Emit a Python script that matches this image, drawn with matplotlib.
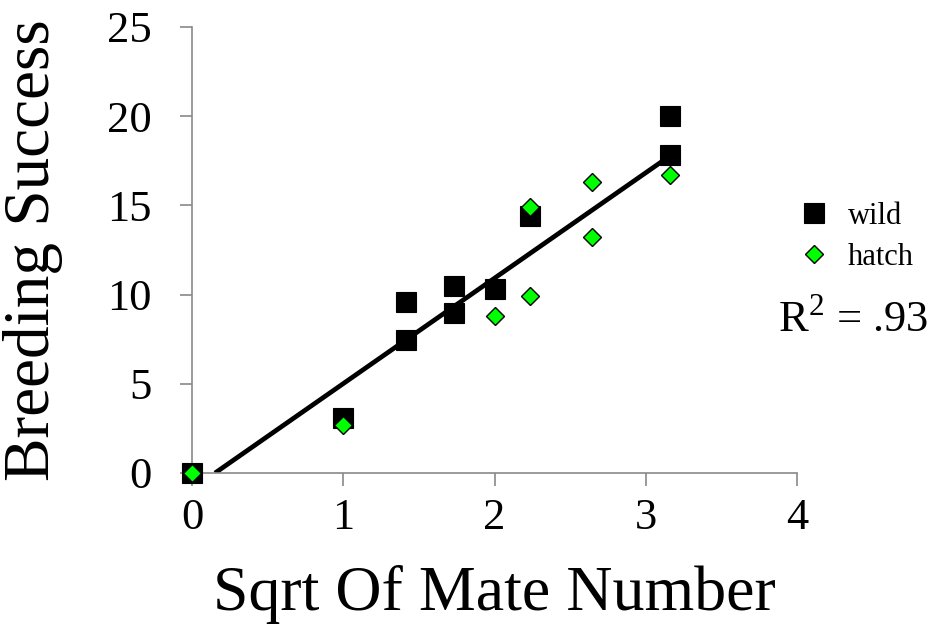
import numpy as np
import matplotlib
matplotlib.use("Agg")
import matplotlib.pyplot as plt

plt.rcParams["font.family"] = ["Liberation Serif", "DejaVu Serif"]
plt.rcParams["mathtext.fontset"] = "custom"
plt.rcParams["mathtext.rm"] = "Liberation Serif"

# ---- data ----
wild_x = [0, 1, 1.414, 1.414, 1.732, 1.732, 2, 2.236, 3.162, 3.162]
wild_y = [0, 3.1, 9.6, 7.45, 10.5, 8.95, 10.3, 14.4, 20.0, 17.85]

hatch_x = [0, 1, 2, 2.236, 2.236, 2.646, 2.646, 3.162]
hatch_y = [0, 2.7, 8.8, 14.9, 9.9, 16.3, 13.25, 16.7]

# trend line (linear fit shown in the original)
fit_slope = 5.91
fit_intercept = -0.9
fit_x_end = 3.162

x_ticks = [0, 1, 2, 3, 4]
y_ticks = [0, 5, 10, 15, 20, 25]

AXIS_GREY = "#898989"
GREEN = "#00FF00"

fig = plt.figure(figsize=(9.44, 6.32), dpi=100)
ax = fig.add_axes([0.2034, 0.2516, 0.6409, 0.7057])

# regression line from its x-intercept to the last x value
fx = np.array([-fit_intercept / fit_slope, fit_x_end])
ax.plot(fx, fit_slope * fx + fit_intercept, color="black", lw=3.4,
        solid_capstyle="butt", zorder=2)

ax.plot(wild_x, wild_y, ls="none", marker="s", ms=14, mfc="black",
        mec="black", mew=0.8, label="wild", zorder=3, clip_on=False)
ax.plot(hatch_x, hatch_y, ls="none", marker="D", ms=9.6, mfc=GREEN,
        mec="black", mew=1.0, label="hatch", zorder=4, clip_on=False)

ax.set_xlim(0, 4)
ax.set_ylim(0, 25)
ax.set_xticks(x_ticks)
ax.set_yticks(y_ticks)

for side in ["top", "right"]:
    ax.spines[side].set_visible(False)
for side in ["left", "bottom"]:
    ax.spines[side].set_color(AXIS_GREY)
    ax.spines[side].set_linewidth(1.2)

ax.tick_params(axis="both", direction="out", length=9, width=1.2,
               color=AXIS_GREY, labelsize=32, labelcolor="black")
ax.tick_params(axis="y", pad=20)
ax.tick_params(axis="x", pad=9)

ax.set_xlabel("Sqrt Of Mate Number", fontsize=46, va="center")
ax.xaxis.set_label_coords(0.5, -0.273)
ax.set_ylabel("Breeding Success", fontsize=47, va="center")
ax.yaxis.set_label_coords(-0.262, 0.5)

leg = ax.legend(loc="upper left", bbox_to_anchor=(0.983, 0.636), frameon=False,
                fontsize=22, handlelength=1.0, handletextpad=0.6,
                labelspacing=0.4, borderaxespad=0)

ax.text(0.968, 0.343, "R$^{2}$ = .93", transform=ax.transAxes,
        fontsize=32, ha="left", va="center")

fig.savefig("out.png", dpi=100)
